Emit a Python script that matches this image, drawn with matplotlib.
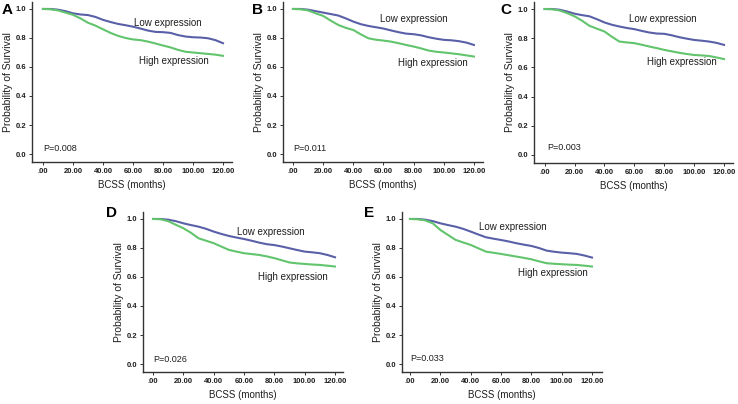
"""
plot.py - five Kaplan-Meier panels (BCSS by low / high expression).
"""

import matplotlib
matplotlib.use('Agg')
import matplotlib.pyplot as plt

plt.rcParams['font.family'] = ['Liberation Sans', 'DejaVu Sans']

BLUE = '#5a60a8'
GREEN = '#62c46c'
TEXT = '#1e1e1e'

# ── Data (every 5 months) ─────────────────────────────────────────────────────

months = [0, 5, 10, 15, 20, 25, 30, 35, 40, 45, 50, 55, 60,
          65, 70, 75, 80, 85, 90, 95, 100, 105, 110, 115, 120]

low_a  = [1.0, 1.0, 0.995, 0.985, 0.97, 0.962, 0.958, 0.945, 0.925, 0.91, 0.897, 0.888, 0.878,
          0.865, 0.851, 0.842, 0.84, 0.835, 0.82, 0.81, 0.805, 0.803, 0.798, 0.785, 0.764]
high_a = [1.0, 0.998, 0.99, 0.975, 0.96, 0.935, 0.905, 0.885, 0.86, 0.835, 0.815, 0.8, 0.79,
          0.785, 0.775, 0.762, 0.748, 0.735, 0.718, 0.705, 0.70, 0.695, 0.69, 0.685, 0.677]

low_b  = [1.0, 1.0, 0.995, 0.985, 0.975, 0.965, 0.955, 0.935, 0.913, 0.895, 0.883, 0.874, 0.865,
          0.852, 0.84, 0.83, 0.826, 0.818, 0.805, 0.795, 0.787, 0.784, 0.778, 0.768, 0.752]
high_b = [1.0, 0.998, 0.99, 0.97, 0.952, 0.92, 0.89, 0.87, 0.855, 0.825, 0.798, 0.788, 0.782,
          0.775, 0.764, 0.752, 0.741, 0.728, 0.713, 0.705, 0.70, 0.694, 0.688, 0.68, 0.672]

low_c  = [1.0, 1.0, 0.995, 0.983, 0.968, 0.958, 0.95, 0.93, 0.908, 0.892, 0.88, 0.87, 0.862,
          0.85, 0.839, 0.832, 0.83, 0.82, 0.807, 0.797, 0.788, 0.783, 0.777, 0.768, 0.754]
high_c = [1.0, 0.998, 0.99, 0.972, 0.95, 0.92, 0.885, 0.865, 0.846, 0.81, 0.777, 0.771, 0.766,
          0.755, 0.743, 0.732, 0.72, 0.71, 0.70, 0.692, 0.685, 0.682, 0.678, 0.668, 0.657]

low_d  = [1.0, 1.0, 0.995, 0.985, 0.97, 0.958, 0.947, 0.932, 0.913, 0.897, 0.883, 0.872, 0.862,
          0.85, 0.837, 0.826, 0.82, 0.81, 0.798, 0.786, 0.775, 0.77, 0.764, 0.752, 0.736]
high_d = [1.0, 0.998, 0.985, 0.96, 0.936, 0.905, 0.867, 0.85, 0.833, 0.81, 0.787, 0.775, 0.764,
          0.758, 0.752, 0.742, 0.73, 0.715, 0.70, 0.694, 0.69, 0.686, 0.683, 0.678, 0.672]

low_e  = [1.0, 1.0, 0.995, 0.985, 0.97, 0.958, 0.947, 0.932, 0.913, 0.893, 0.874, 0.864, 0.855,
          0.845, 0.833, 0.823, 0.814, 0.8, 0.782, 0.774, 0.768, 0.764, 0.759, 0.748, 0.734]
high_e = [1.0, 0.998, 0.99, 0.97, 0.924, 0.89, 0.856, 0.838, 0.821, 0.798, 0.775, 0.767, 0.759,
          0.75, 0.741, 0.732, 0.722, 0.708, 0.695, 0.691, 0.688, 0.685, 0.683, 0.678, 0.672]

p_values = ['P=0.008', 'P=0.011', 'P=0.003', 'P=0.026', 'P=0.033']
panel_letters = ['A', 'B', 'C', 'D', 'E']

y_ticks = [0.0, 0.2, 0.4, 0.6, 0.8, 1.0]
y_labels = ['0.0', '0.2', '0.4', '0.6', '0.8', '1.0']
x_ticks = [0, 20, 40, 60, 80, 100, 120]
x_labels = ['.00', '20.00', '40.00', '60.00', '80.00', '100.00', '120.00']

# ── Layout (pixels in a 738x404 canvas) ───────────────────────────────────────

W, H = 738, 404

# left, right, top, bottom of axes box; xlim; label positions (data coords)
PANELS = [
    dict(box=(32, 232, 2, 162),  xlim=(-7.3, 126.0), low=low_a, high=high_a,
         low_xy=(83, 0.90), high_xy=(87, 0.64), p_xy=(0, 0.035), letter=(2, 3)),
    dict(box=(283, 483, 2, 162), xlim=(-6.6, 126.0), low=low_b, high=high_b,
         low_xy=(80, 0.93), high_xy=(93, 0.63), p_xy=(0.5, 0.04), letter=(252, 3)),
    dict(box=(534, 733, 2, 163), xlim=(-7.1, 126.0), low=low_c, high=high_c,
         low_xy=(79, 0.93), high_xy=(92, 0.635), p_xy=(2, 0.05), letter=(500, 3)),
    dict(box=(143, 343, 212, 372), xlim=(-6.6, 125.3), low=low_d, high=high_d,
         low_xy=(78, 0.91), high_xy=(92, 0.60), p_xy=(0, 0.03), letter=(106, 206)),
    dict(box=(402, 602, 212, 372), xlim=(-5.3, 126.6), low=low_e, high=high_e,
         low_xy=(68, 0.945), high_xy=(94, 0.63), p_xy=(0, 0.04), letter=(364, 206)),
]


def draw_panel(fig, spec, p_text, letter):
    l, r, t, b = spec['box']
    ax = fig.add_axes([l / W, (H - b) / H, (r - l) / W, (b - t) / H])

    ax.plot(months, spec['low'], color=BLUE, linewidth=1.5)
    ax.plot(months, spec['high'], color=GREEN, linewidth=1.5)

    ax.set_xlim(*spec['xlim'])
    ax.set_ylim(-0.055, 1.048)
    ax.set_xticks(x_ticks)
    ax.set_xticklabels(x_labels, fontweight='bold')
    ax.set_yticks(y_ticks)
    ax.set_yticklabels(y_labels, fontweight='bold')
    ax.tick_params(labelsize=5.5, colors='#333333', labelcolor=TEXT,
                   length=2.5, width=0.7, pad=1.5)

    for side in ('top', 'right'):
        ax.spines[side].set_visible(False)
    for side in ('left', 'bottom'):
        ax.spines[side].set_color('#333333')
        ax.spines[side].set_linewidth(1.0)

    ax.set_xlabel('BCSS (months)', fontsize=7, color=TEXT, labelpad=4)
    ax.set_ylabel('Probability of Survival', fontsize=7.5, color=TEXT, labelpad=2)

    ax.text(*spec['low_xy'], 'Low expression', fontsize=7, color=TEXT,
            ha='center', va='center')
    ax.text(*spec['high_xy'], 'High expression', fontsize=7, color=TEXT,
            ha='center', va='center')
    ax.text(*spec['p_xy'], p_text, fontsize=6.5, color=TEXT,
            ha='left', va='center')

    lx, ly = spec['letter']
    fig.text(lx / W, 1 - ly / H, letter, fontsize=11, fontweight='bold',
             color='black', ha='left', va='top')


def main():
    fig = plt.figure(figsize=(W / 100, H / 100), dpi=100)
    fig.patch.set_facecolor('white')
    for spec, p_text, letter in zip(PANELS, p_values, panel_letters):
        draw_panel(fig, spec, p_text, letter)
    fig.savefig('out.png', dpi=100)


if __name__ == '__main__':
    main()
